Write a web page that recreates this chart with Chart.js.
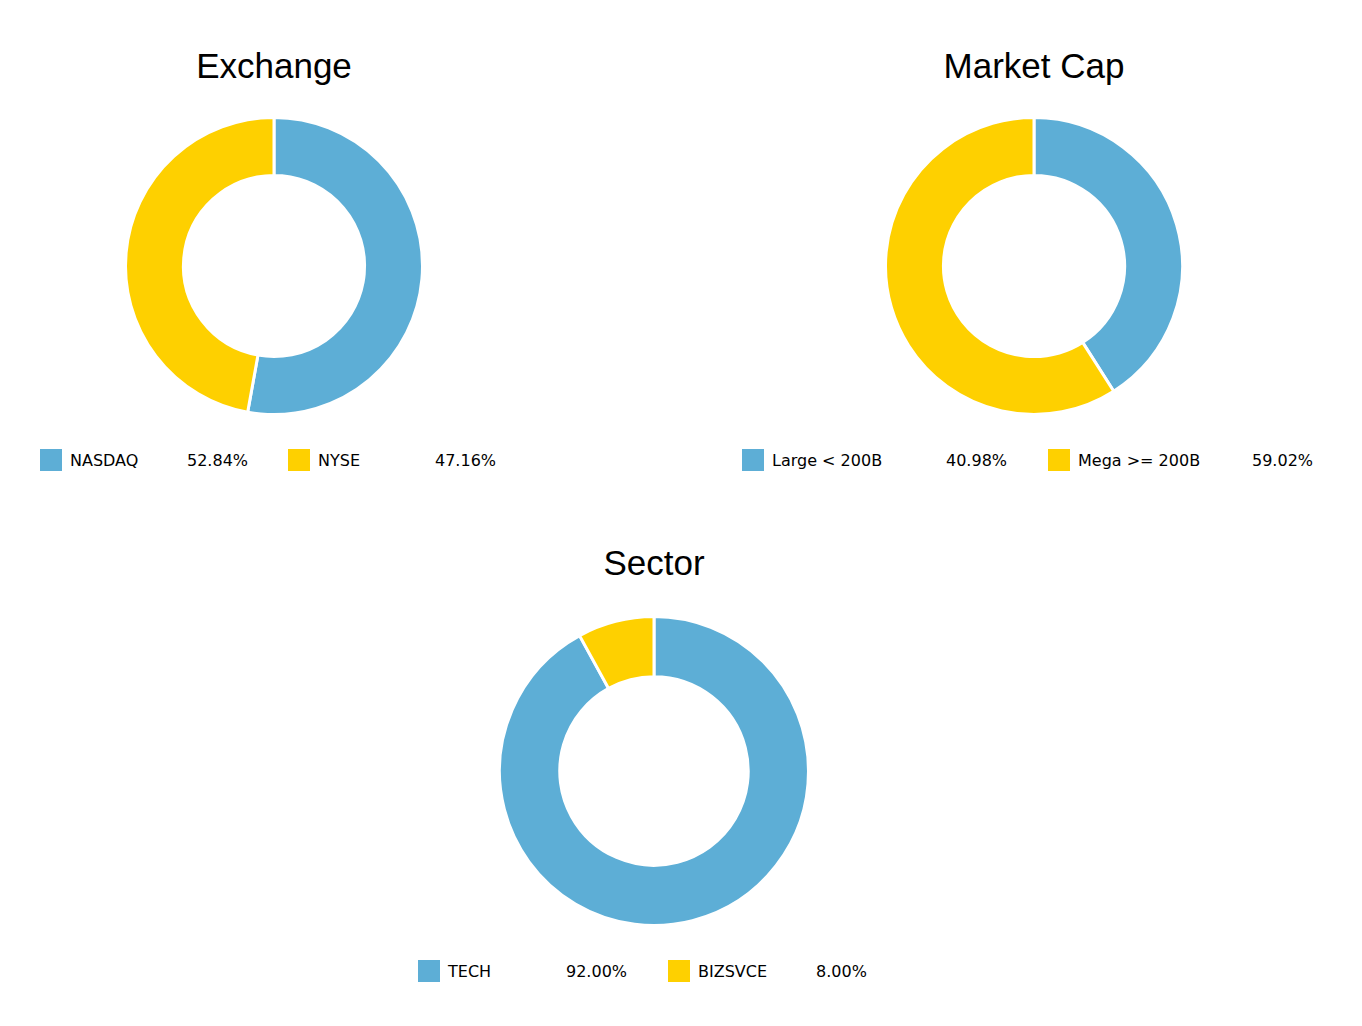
<!DOCTYPE html>
<html><head><meta charset="utf-8">
<script src="https://cdn.jsdelivr.net/npm/chart.js@4"></script>
<style>
body{margin:0;background:#fff;width:1362px;height:1026px;position:relative;overflow:hidden}
.title{position:absolute;font-family:"Liberation Sans",Arial,sans-serif;font-size:35px;color:#000;transform:translateX(-50%);white-space:nowrap}
.box{position:absolute}
.leg{position:absolute;font-family:"DejaVu Sans",sans-serif;font-size:16px;color:#000;white-space:nowrap}
.sq{position:absolute;width:22px;height:22px}
.lt{position:absolute;top:2px}
</style></head><body>
<script>
var colors = ['#5daed6', '#fed000'];

var exchangeLabels = ['NASDAQ', 'NYSE'];
var exchangeValues = [52.84, 47.16];
var capLabels = ['Large < 200B', 'Mega >= 200B'];
var capValues = [40.98, 59.02];
var sectorLabels = ['TECH', 'BIZSVCE'];
var sectorValues = [92.00, 8.00];

function donut(title, labels, values, cx, cy, r, titleY, legX, legY, step, valOff) {
   var t = document.createElement('div');
   t.className = 'title';
   t.style.left = cx + 'px';
   t.style.top = titleY + 'px';
   t.textContent = title;
   document.body.appendChild(t);

   var box = document.createElement('div');
   box.className = 'box';
   box.style.left = (cx - r - 4) + 'px';
   box.style.top = (cy - r - 4) + 'px';
   box.style.width = (2 * r + 8) + 'px';
   box.style.height = (2 * r + 8) + 'px';
   var c = document.createElement('canvas');
   box.appendChild(c);
   document.body.appendChild(box);

   new Chart(c, {
      type: 'doughnut',
      data: {
         labels: labels,
         datasets: [{ data: values, backgroundColor: colors, borderColor: '#fff', borderWidth: 3, hoverOffset: 0 }],
      },
      options: {
         responsive: true,
         maintainAspectRatio: false,
         animation: false,
         cutout: '61%',
         layout: { padding: 2 },
         plugins: { legend: { display: false }, tooltip: { enabled: false } },
      },
   });

   labels.forEach(function (l, i) {
      var d = document.createElement('div');
      d.className = 'leg';
      d.style.left = (legX + i * step) + 'px';
      d.style.top = legY + 'px';
      d.innerHTML = '<div class="sq" style="background:' + colors[i] + '"></div>';
      var a = document.createElement('span');
      a.className = 'lt'; a.style.left = '30px'; a.textContent = l;
      var b = document.createElement('span');
      b.className = 'lt'; b.style.left = valOff + 'px'; b.textContent = values[i].toFixed(2) + '%';
      d.appendChild(a); d.appendChild(b);
      document.body.appendChild(d);
   });
}

donut('Exchange', exchangeLabels, exchangeValues, 274, 266, 148, 46, 40, 449, 248, 147);
donut('Market Cap', capLabels, capValues, 1034, 266, 148, 46, 742, 449, 306, 204);
donut('Sector', sectorLabels, sectorValues, 654, 771, 154, 543, 418, 960, 250, 148);
</script>
</body></html>
